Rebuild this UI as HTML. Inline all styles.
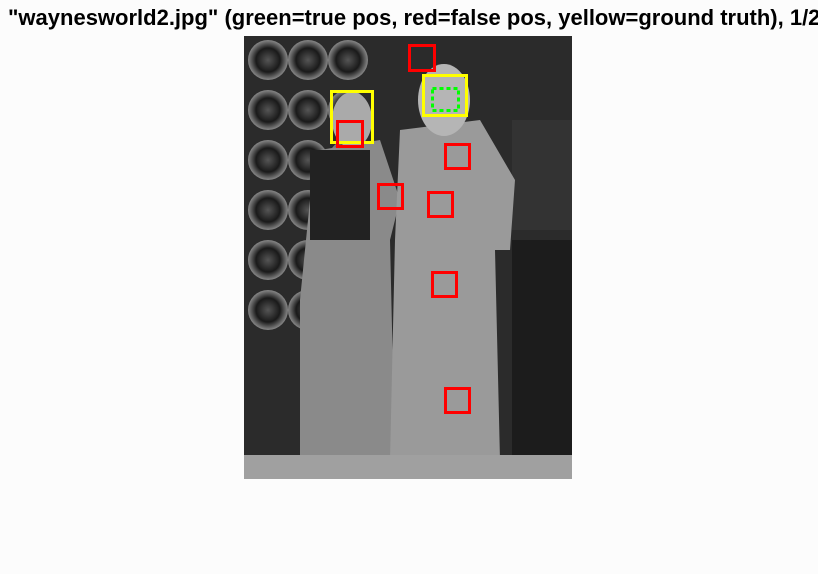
<!DOCTYPE html>
<html><head><meta charset="utf-8"><style>
html,body{margin:0;padding:0;background:#fcfcfc;width:818px;height:574px;overflow:hidden}
#title{position:absolute;left:8px;top:5px;font:bold 22px "Liberation Sans",sans-serif;white-space:nowrap;color:#000;line-height:26px}
svg{position:absolute;left:0;top:0}
</style></head><body>
<div id="title">"waynesworld2.jpg" (green=true pos, red=false pos, yellow=ground truth), 1/2</div>
<svg id="s" width="818" height="574">
<defs>
<radialGradient id="spk" cx="50%" cy="50%" r="50%"><stop offset="0" stop-color="#555"/><stop offset="0.6" stop-color="#1a1a1a"/><stop offset="1" stop-color="#888"/></radialGradient>
</defs>
<g>
<rect x="244" y="36" width="328" height="443" fill="#2b2b2b"/>
<g id="speakers"></g>
<rect x="512" y="240" width="60" height="215" fill="#1c1c1c"/>
<rect x="512" y="120" width="60" height="110" fill="#333"/>
<path d="M320 150 L380 140 L400 200 L390 240 L395 460 L300 460 L300 300 L310 200 Z" fill="#8a8a8a"/>
<path d="M400 130 L480 120 L515 180 L510 250 L495 250 L500 460 L390 460 L395 240 Z" fill="#9a9a9a"/>
<rect x="310" y="150" width="60" height="90" fill="#222"/>
<ellipse cx="352" cy="120" rx="20" ry="28" fill="#aaa"/>
<ellipse cx="444" cy="100" rx="26" ry="36" fill="#b5b5b5"/>
<rect x="244" y="455" width="328" height="24" fill="#a0a0a0"/>
</g>
<g id="boxes"></g>
</svg>
<script>
const redX=[408,336,444,377,427,431,444];
const redY=[44,120,143,183,191,271,387];
const redW=[28,28,27,27,27,27,27];
const yellowX=[330,422];
const yellowY=[90,74];
const yellowW=[44,46];
const yellowH=[54,43];
const greenX=[431], greenY=[87], greenW=[29], greenH=[25];
const NS="http://www.w3.org/2000/svg";
const sp=document.getElementById('speakers');
for(let r=0;r<6;r++)for(let c=0;c<3;c++){
 const e=document.createElementNS(NS,'circle');
 e.setAttribute('cx',268+c*40);e.setAttribute('cy',60+r*50);e.setAttribute('r',20);e.setAttribute('fill','url(#spk)');
 
 
 sp.appendChild(e);}
const g=document.getElementById('boxes');
function box(x,y,w,h,col,dash,name){
 const r=document.createElementNS(NS,'rect');
 r.setAttribute('x',x+1.5);r.setAttribute('y',y+1.5);r.setAttribute('width',w-3);r.setAttribute('height',h-3);
 r.setAttribute('fill','none');r.setAttribute('stroke',col);r.setAttribute('stroke-width',3);
 if(dash)r.setAttribute('stroke-dasharray','4 3');
 
 
 g.appendChild(r);}
yellowX.forEach((x,i)=>box(x,yellowY[i],yellowW[i],yellowH[i],'#ffff00',false,'ground-truth-box'));
redX.forEach((x,i)=>box(x,redY[i],redW[i],redW[i],'#ff0000',false,'false-positive-box'));
greenX.forEach((x,i)=>box(x,greenY[i],greenW[i],greenH[i],'#00ff00',true,'true-positive-box'));
</script>
</body></html>
